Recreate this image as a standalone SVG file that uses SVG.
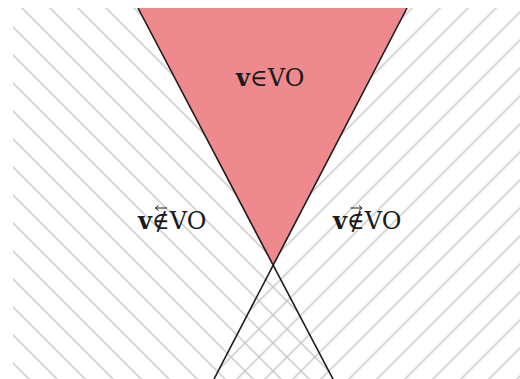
<svg xmlns="http://www.w3.org/2000/svg" width="520" height="379" viewBox="0 0 520 379">
<style>
.hatch{stroke:#c8c8c8;stroke-width:1.5}
.cone{stroke:#1a1a1a;stroke-width:1.6;fill:none}
.lbl{font-family:"DejaVu Serif","Liberation Serif",serif;font-size:24px;fill:#1a1a1a}
.b{font-weight:bold}
.arr{stroke:#1a1a1a;stroke-width:1;fill:none}
</style>
<defs>
<pattern id="hl" patternUnits="userSpaceOnUse" width="20" height="19.8" patternTransform="rotate(45)">
<line class="hatch" x1="-1" y1="9.9" x2="21" y2="9.9"/>
</pattern>
<pattern id="hr" patternUnits="userSpaceOnUse" width="20" height="19.8" patternTransform="rotate(-45) translate(0,-9.9)">
<line class="hatch" x1="-1" y1="9.9" x2="21" y2="9.9"/>
</pattern>
</defs>
<rect width="520" height="379" fill="#ffffff"/>
<g id="region-left">
<polygon points="13,8 138,8 333,379 13,379" fill="url(#hl)"/>
</g>
<g id="region-right">
<polygon points="407,8 520,8 520,379 214,379" fill="url(#hr)"/>
</g>
<g id="region-vo">
<polygon points="138,8 407,8 273,265" fill="#ee8a8e"/>
</g>
<g id="connectors">
<line class="cone" x1="138" y1="8" x2="333" y2="379"/>
<line class="cone" x1="407" y1="8" x2="214" y2="379"/>
</g>
<g id="label-vo">
<text class="lbl" x="236" y="86"><tspan class="b">v</tspan>∈VO</text>
</g>
<g id="label-left">
<text class="lbl" x="138" y="229"><tspan class="b">v</tspan>∉VO</text>
<path class="arr" d="M155.5,208 H167 M155.5,208 L158.5,205.5 M155.5,208 L158.5,210.5"/>
</g>
<g id="label-right">
<text class="lbl" x="333" y="229"><tspan class="b">v</tspan>∉VO</text>
<path class="arr" d="M350.5,208 H362 M362,208 L359,205.5 M362,208 L359,210.5"/>
</g>
</svg>
